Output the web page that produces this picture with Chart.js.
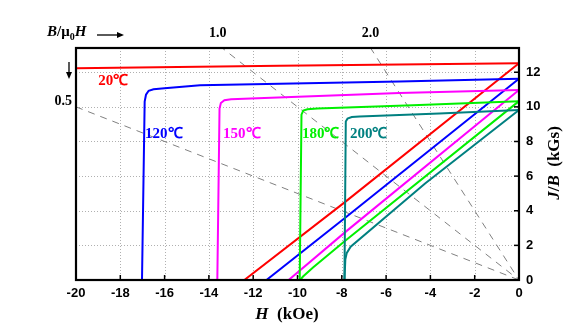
<!DOCTYPE html>
<html>
<head>
<meta charset="utf-8">
<script src="https://cdn.jsdelivr.net/npm/chart.js@4.4.0/dist/chart.umd.min.js"></script>
<style>
  html, body { margin: 0; padding: 0; background: #fff; }
  #wrap { width: 585px; height: 332px; position: relative; }
</style>
</head>
<body>
<div id="wrap"><canvas id="chart"></canvas></div>
<script>
// Curve temperatures
const temps = ['20℃', '120℃', '150℃', '180℃', '200℃'];

// Intrinsic curves J(H) as [H (kOe), J (kGs)]
const j20  = [[-20, 12.23], [-10.8, 12.38], [0, 12.52]];
const j120 = [[-17.02, 0], [-16.9, 10.3], [-16.84, 10.7], [-16.72, 10.93], [-16.5, 11.02], [-16.0, 11.08], [-14.4, 11.25], [-5.4, 11.46], [0, 11.62]];
const j150 = [[-13.62, 0], [-13.52, 9.9], [-13.46, 10.22], [-13.3, 10.38], [-13.0, 10.44], [-12.1, 10.48], [-5.4, 10.8], [0, 10.97]];
const j180 = [[-9.9, 0], [-9.82, 9.55], [-9.74, 9.78], [-9.55, 9.86], [-9.1, 9.9], [-4.8, 10.09], [0, 10.33]];
const j200 = [[-7.88, 0], [-7.82, 9.15], [-7.74, 9.33], [-7.55, 9.41], [-7.2, 9.45], [-3.6, 9.62], [0, 9.82]];

// Normal curves B(H)
const b20  = [[-12.4, 0], [-7.86, 4.5], [0, 12.52]];
const b120 = [[-11.4, 0], [-7.86, 3.58], [0, 11.62]];
const b150 = [[-10.4, 0], [-7.86, 2.75], [0, 10.97]];
const b180 = [[-9.88, 0], [-9.75, 0.2], [-9.3, 0.72], [-7.86, 2.25], [0, 10.33]];
const b200 = [[-7.88, 0], [-7.84, 1.2], [-7.78, 1.55], [-7.6, 1.92], [-4.24, 5.57], [0, 9.82]];

// Load lines B/μ0H through the origin
const loadNames = ['0.5', '1.0', '2.0'];
const load05 = [[-20, 10], [0, 0]];
const load10 = [[-20, 20], [0, 0]];
const load20 = [[-20, 40], [0, 0]];

const colors = ['#ff0000', '#0000ff', '#ff00ff', '#00f000', '#008080'];
const serif = '"Liberation Serif", "Times New Roman", serif';
const sans = '"Liberation Sans", Arial, sans-serif';

function pts(arr) {
    return arr.map(p => ({ x: p[0], y: p[1] }));
}

function curve(arr, color) {
    return { data: pts(arr), borderColor: color, borderWidth: 2, showLine: true, pointRadius: 0, tension: 0 };
}

function loadLine(arr) {
    return { data: pts(arr), borderColor: '#808080', borderWidth: 1, borderDash: [7, 6], showLine: true, pointRadius: 0 };
}

// Draw a run of text pieces with their own fonts
function runWidth(ctx, runs) {
    let w = 0;
    runs.forEach(r => { ctx.font = r.font; w += ctx.measureText(r.t).width; });
    return w;
}
function drawRuns(ctx, x, y, runs) {
    runs.forEach(r => {
        ctx.font = r.font;
        ctx.fillText(r.t, x, y + (r.dy || 0));
        x += ctx.measureText(r.t).width;
    });
}

function arrow(ctx, x1, y1, x2, y2) {
    const ang = Math.atan2(y2 - y1, x2 - x1);
    const c = Math.cos(ang), s = Math.sin(ang);
    ctx.beginPath();
    ctx.moveTo(x1, y1);
    ctx.lineTo(x2 - 5 * c, y2 - 5 * s);
    ctx.stroke();
    ctx.beginPath();
    ctx.moveTo(x2, y2);
    ctx.lineTo(x2 - 7 * c + 3 * s, y2 - 7 * s - 3 * c);
    ctx.lineTo(x2 - 7 * c - 3 * s, y2 - 7 * s + 3 * c);
    ctx.closePath();
    ctx.fill();
}

// Dotted grid at the labelled ticks
const dotGrid = {
    id: 'dotGrid',
    beforeDatasetsDraw(chart) {
        const ctx = chart.ctx;
        const a = chart.chartArea;
        const xs = chart.scales.x;
        const ys = chart.scales.y;
        ctx.save();
        ctx.strokeStyle = '#b0b0b0';
        ctx.lineWidth = 1;
        ctx.setLineDash([1, 2]);
        xs.ticks.forEach(t => {
            if (t.value === -20 || t.value === 0) return;
            const px = Math.round(xs.getPixelForValue(t.value)) + 0.5;
            ctx.beginPath(); ctx.moveTo(px, a.bottom); ctx.lineTo(px, a.top); ctx.stroke();
        });
        ys.ticks.forEach(t => {
            if (t.value === 0 || t.value % 2 !== 0) return;
            const py = Math.round(ys.getPixelForValue(t.value)) + 0.5;
            ctx.beginPath(); ctx.moveTo(a.left, py); ctx.lineTo(a.right, py); ctx.stroke();
        });
        ctx.restore();
    }
};

// Frame, inward ticks, titles and labels
const decor = {
    id: 'decor',
    afterDraw(chart) {
        const ctx = chart.ctx;
        const a = chart.chartArea;
        const xs = chart.scales.x;
        const ys = chart.scales.y;
        ctx.save();
        ctx.strokeStyle = '#000';
        ctx.fillStyle = '#000';

        ctx.lineWidth = 1.5;
        xs.ticks.forEach(t => {
            const px = xs.getPixelForValue(t.value);
            ctx.beginPath(); ctx.moveTo(px, a.bottom); ctx.lineTo(px, a.bottom - 5); ctx.stroke();
        });
        ys.ticks.forEach(t => {
            const py = ys.getPixelForValue(t.value);
            const len = t.value % 2 === 0 ? 5 : 3;
            ctx.beginPath(); ctx.moveTo(a.right, py); ctx.lineTo(a.right - len, py); ctx.stroke();
        });

        ctx.lineWidth = 2.2;
        ctx.strokeRect(a.left, a.top, a.right - a.left, a.bottom - a.top);

        // axis titles
        ctx.textAlign = 'left';
        ctx.textBaseline = 'alphabetic';
        const xt = [{ t: 'H', font: 'italic bold 17px ' + serif }, { t: '  (kOe)', font: 'bold 17px ' + serif }];
        drawRuns(ctx, 287 - runWidth(ctx, xt) / 2, 319, xt);

        const yt = [{ t: 'J', font: 'italic bold 17px ' + serif }, { t: '/', font: 'bold 17px ' + serif },
                    { t: 'B', font: 'italic bold 17px ' + serif }, { t: '  (kGs)', font: 'bold 17px ' + serif }];
        ctx.save();
        ctx.translate(559, 163);
        ctx.rotate(-Math.PI / 2);
        drawRuns(ctx, -runWidth(ctx, yt) / 2, 0, yt);
        ctx.restore();

        // permeance scale of the load lines
        const top = [{ t: 'B', font: 'italic bold 15px ' + serif }, { t: '/μ', font: 'bold 15px ' + serif },
                     { t: '0', font: 'bold 10px ' + serif, dy: 4 }, { t: 'H', font: 'italic bold 15px ' + serif }];
        drawRuns(ctx, 47, 36, top);
        ctx.lineWidth = 1.3;
        arrow(ctx, 97, 35, 124, 35);
        arrow(ctx, 69, 62, 69, 79);

        ctx.font = 'bold 14px ' + serif;
        ctx.textAlign = 'center';
        ctx.fillText(loadNames[1], xs.getPixelForValue(-13.6), 37);
        ctx.fillText(loadNames[2], xs.getPixelForValue(-6.7), 37);
        ctx.textAlign = 'right';
        ctx.fillText(loadNames[0], 72, 105);

        // temperature labels
        ctx.textAlign = 'left';
        ctx.font = 'bold 15px ' + serif;
        const spots = [[-19.0, 85], [-16.88, 138], [-13.36, 138], [-9.8, 138], [-7.63, 138]];
        temps.forEach((t, i) => {
            ctx.fillStyle = colors[i];
            ctx.fillText(t, xs.getPixelForValue(spots[i][0]), spots[i][1]);
        });
        ctx.restore();
    }
};

const tickFont = { family: sans, size: 13, weight: 'bold' };

new Chart(document.getElementById('chart'), {
    type: 'scatter',
    data: {
        datasets: [
            curve(j20, colors[0]), curve(j120, colors[1]), curve(j150, colors[2]), curve(j180, colors[3]), curve(j200, colors[4]),
            curve(b20, colors[0]), curve(b120, colors[1]), curve(b150, colors[2]), curve(b180, colors[3]), curve(b200, colors[4]),
            loadLine(load05), loadLine(load10), loadLine(load20)
        ]
    },
    options: {
        responsive: true,
        maintainAspectRatio: false,
        animation: false,
        layout: { padding: { left: 76, top: 48, right: 0, bottom: 0 } },
        plugins: { legend: { display: false }, tooltip: { enabled: false } },
        scales: {
            x: {
                type: 'linear',
                position: 'bottom',
                min: -20,
                max: 0,
                ticks: { stepSize: 2, color: '#000', font: tickFont, padding: 6, maxRotation: 0 },
                grid: { display: false, drawTicks: false },
                border: { display: false },
                afterFit: s => { s.height = 52; }
            },
            y: {
                type: 'linear',
                position: 'right',
                min: 0,
                max: 13.4,
                ticks: {
                    stepSize: 1,
                    includeBounds: false,
                    color: '#000',
                    font: tickFont,
                    padding: 7,
                    callback: v => (v % 2 === 0 ? v : '')
                },
                grid: { display: false, drawTicks: false },
                border: { display: false },
                afterFit: s => { s.width = 66; }
            }
        }
    },
    plugins: [dotGrid, decor]
});
</script>
</body>
</html>
